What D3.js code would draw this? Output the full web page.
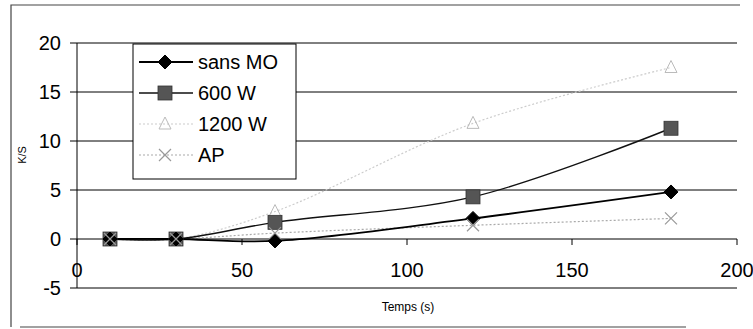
<!DOCTYPE html>
<html><head><meta charset="utf-8">
<script src="https://cdn.jsdelivr.net/npm/d3@7"></script>
<style>body{margin:0;background:#fff}svg{display:block}text{font-family:Arial,"Liberation Sans",sans-serif}</style>
</head><body><svg id="c" width="753" height="329"></svg>
<script>
const times = [10, 30, 60, 120, 180];
const sansMO = [0, 0, -0.2, 2.1, 4.8];
const w600 = [0, 0, 1.7, 4.3, 11.3];
const w1200 = [0, 0, 2.8, 11.8, 17.5];
const ap = [0, 0, 0.6, 1.4, 2.1];
const seriesNames = ["sans MO", "600 W", "1200 W", "AP"];
const xTicks = [0, 50, 100, 150, 200];
const yTicks = [-5, 0, 5, 10, 15, 20];

const svg = d3.select("#c");
const x = d3.scaleLinear().domain([0, 200]).range([77, 737]);
const y = d3.scaleLinear().domain([-5, 20]).range([288, 43]);

// outer border (scan)
svg.append("path").attr("d","M11,327 L11,5 L740,5").attr("fill","none").attr("stroke","#444").attr("stroke-width",1.2);
svg.append("line").attr("x1",20).attr("x2",686).attr("y1",327).attr("y2",327).attr("stroke","#444").attr("stroke-width",1.2);

// gridlines
svg.append("g").selectAll("line").data(yTicks).join("line")
  .attr("x1",70).attr("x2",737).attr("y1",d=>y(d)).attr("y2",d=>y(d))
  .attr("stroke","#000").attr("stroke-width",1);
// y axis
svg.append("line").attr("x1",77).attr("x2",77).attr("y1",43).attr("y2",288).attr("stroke","#000");
svg.append("g").selectAll("text").data(yTicks).join("text")
  .attr("x",61).attr("y",d=>y(d)+7).attr("text-anchor","end").attr("font-size",20).text(d=>d);
// x axis ticks
svg.append("g").selectAll("line").data(xTicks).join("line")
  .attr("x1",d=>x(d)).attr("x2",d=>x(d)).attr("y1",y(0)).attr("y2",y(0)+6).attr("stroke","#000");
svg.append("g").selectAll("text").data(xTicks).join("text")
  .attr("x",d=>x(d)).attr("y",277).attr("text-anchor","middle").attr("font-size",20).text(d=>d);
// axis titles
svg.append("text").attr("x",408).attr("y",311).attr("text-anchor","middle").attr("font-size",12).text("Temps (s)");
svg.append("text").attr("transform","translate(26,155) rotate(-90)").attr("text-anchor","middle").attr("font-size",11).text("K/S");

const allSeries = [sansMO, w600, w1200, ap];
const styles = [
  {stroke:"#000", width:1.8, dash:null, fill:"#000", marker:"diamond"},
  {stroke:"#111", width:1.4, dash:null, fill:"#555", marker:"square"},
  {stroke:"#ccc", width:1.2, dash:"2,2", fill:"#ccc", marker:"triangle"},
  {stroke:"#aaa", width:1.2, dash:"2,2", fill:"none", marker:"x"}
];
const line = d3.line().x((d,i)=>x(times[i])).y(d=>y(d)).curve(d3.curveCatmullRom.alpha(0.5));

function drawMarker(g, kind, cx, cy, st){
  if(kind==="diamond"){
    g.append("path").attr("d",`M${cx},${cy-7}L${cx+7},${cy}L${cx},${cy+7}L${cx-7},${cy}Z`).attr("fill",st.fill).attr("stroke","#000");
  } else if(kind==="square"){
    g.append("rect").attr("x",cx-7).attr("y",cy-7).attr("width",14).attr("height",14).attr("fill",st.fill).attr("stroke","#333").attr("stroke-width",0.8);
  } else if(kind==="triangle"){
    g.append("path").attr("d",`M${cx},${cy-7}L${cx+6},${cy+5}L${cx-6},${cy+5}Z`).attr("fill","none").attr("stroke","#bbb");
  } else {
    g.append("path").attr("d",`M${cx-6},${cy-6}L${cx+6},${cy+6}M${cx-6},${cy+6}L${cx+6},${cy-6}`).attr("stroke","#999").attr("stroke-width",1.2);
  }
}

[2,3,1,0].forEach(si=>{
  const st = styles[si];
  svg.append("path").attr("d",line(allSeries[si])).attr("fill","none").attr("stroke",st.stroke)
    .attr("stroke-width",st.width).attr("stroke-dasharray",st.dash);
});
[2,1,0,3].forEach(si=>{
  const st = styles[si];
  const g = svg.append("g");
  allSeries[si].forEach((v,i)=>drawMarker(g, st.marker, x(times[i]), y(v), st));
});

// legend
const lg = svg.append("g");
lg.append("rect").attr("x",133).attr("y",44).attr("width",163).attr("height",135).attr("fill","#fff").attr("stroke","#000");
seriesNames.forEach((n,i)=>{
  const ly = 62 + i*31;
  const st = styles[i];
  lg.append("line").attr("x1",139).attr("x2",193).attr("y1",ly).attr("y2",ly).attr("stroke",st.stroke)
    .attr("stroke-width",st.width).attr("stroke-dasharray",st.dash);
  drawMarker(lg, st.marker, 165, ly, st);
  lg.append("text").attr("x",198).attr("y",ly+7).attr("font-size",20).text(n);
});
</script></body></html>
